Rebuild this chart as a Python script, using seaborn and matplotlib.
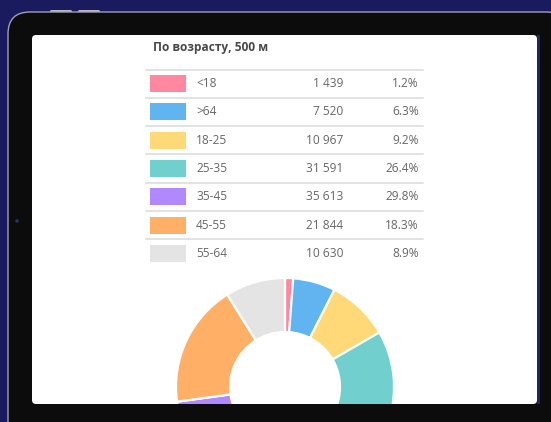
import matplotlib.pyplot as plt
import seaborn as sns
from matplotlib.patches import FancyBboxPatch, Rectangle, Circle

# data
TITLE = "По возрасту, 500 м"
age_groups = ["<18", ">64", "18-25", "25-35", "35-45", "45-55", "55-64"]
counts = [1439, 7520, 10967, 31591, 35613, 21844, 10630]
shares = [1.2, 6.3, 9.2, 26.4, 29.8, 18.3, 8.9]
colors = ["#ff87a0", "#60b5f0", "#ffd878", "#71cfcd", "#b088ff", "#ffb066", "#e4e4e4"]

W, H = 551, 422
NAVY = "#1a1b5e"
FRAME = "#0c0c0c"


def Y(py):
    # pixel row (top origin) -> data y
    return H - py


def fmt_count(n):
    return f"{n:,}".replace(",", " ")


sns.set_style("white")
plt.rcParams["font.family"] = ["Open Sans", "DejaVu Sans"]
palette = sns.color_palette(colors)

fig = plt.figure(figsize=(W / 100, H / 100), dpi=100)
fig.patch.set_facecolor(NAVY)
ax = fig.add_axes([0, 0, 1, 1])
ax.set_facecolor(NAVY)

# tablet frame
for bx in (50, 78):
    ax.add_patch(FancyBboxPatch((bx, Y(13)), 22, 3, boxstyle="round,pad=0,rounding_size=1.5",
                                fc="#b8b8c4", ec="none", zorder=1))
ax.add_patch(FancyBboxPatch((8, Y(460)), 560, 448, boxstyle="round,pad=0,rounding_size=22",
                            fc=FRAME, ec="#a0a0b4", lw=1.0, zorder=2))
ax.add_patch(Circle((17, Y(221)), 1.8, fc="#27306a", ec="none", zorder=3))
ax.add_patch(Rectangle((537, Y(404)), 3, 369, fc="#22245e", ec="none", zorder=3))
screen = FancyBboxPatch((32, Y(404)), 505, 369, boxstyle="round,pad=0,rounding_size=4",
                        fc="white", ec="none", zorder=4)
ax.add_patch(screen)

# title
ax.text(153, Y(48), TITLE, fontsize=8.6, fontweight="bold", color="#484848",
        ha="left", va="center", zorder=6)

# legend table
row_h = 28.3
top_line = 69.5
ax.plot([146, 423], [Y(top_line)] * 2, color="#e2e2e2", lw=1.4, zorder=5)
for i, (lab, n, pct) in enumerate(zip(age_groups, counts, shares)):
    cy = top_line + row_h * (i + 0.5)
    ax.add_patch(Rectangle((150, Y(cy + 8.5)), 36, 17, fc=palette[i], ec="none", zorder=6))
    ax.text(196, Y(cy), lab, fontsize=8.6, color="#666666", ha="left", va="center", zorder=6)
    ax.text(343, Y(cy), fmt_count(n), fontsize=8.6, color="#666666", ha="right", va="center", zorder=6)
    ax.text(419, Y(cy), f"{pct}%", fontsize=8.6, color="#666666", ha="right", va="center", zorder=6)
    if i < len(age_groups) - 1:
        ax.plot([146, 423], [Y(top_line + row_h * (i + 1))] * 2, color="#e2e2e2", lw=1.4, zorder=5)

# donut
wedges, _ = ax.pie(counts, colors=palette, startangle=90, counterclock=False,
                   center=(285, Y(387)), radius=109,
                   wedgeprops=dict(width=54, edgecolor="white", linewidth=1.6))
for w in wedges:
    w.set_zorder(5)

# bottom bezel drawn over the part of the donut that leaves the screen
ax.add_patch(Rectangle((9, 0), W, Y(404), fc=FRAME, ec="none", zorder=7))

ax.set_xlim(0, W)
ax.set_ylim(0, H)
ax.set_aspect("auto")
ax.axis("off")

fig.savefig("out.png", dpi=100, facecolor=NAVY)
